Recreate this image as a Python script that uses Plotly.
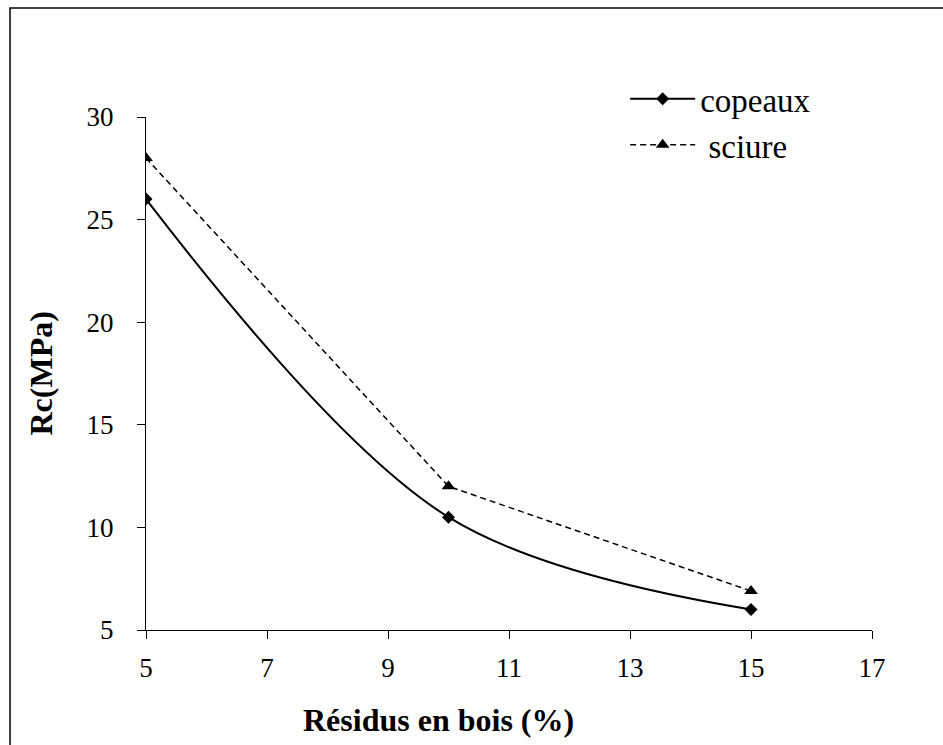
import plotly.graph_objects as go

residus = [5, 10, 15]
copeaux = [26, 10.5, 6]
sciure = [28, 12, 6.9]
x_ticks = [5, 7, 9, 11, 13, 15, 17]
y_ticks = [5, 10, 15, 20, 25, 30]

font_name = "Liberation Serif, Times New Roman, serif"

fig = go.Figure()
fig.add_trace(go.Scatter(
    x=residus, y=copeaux, name="copeaux", mode="lines+markers",
    line=dict(color="black", width=2, shape="spline", smoothing=1),
    marker=dict(symbol="diamond", size=10, color="black"),
))
fig.add_trace(go.Scatter(
    x=residus, y=sciure, name=" sciure", mode="lines+markers",
    line=dict(color="black", width=1.5, dash="6px,4px"),
    marker=dict(symbol="triangle-up", size=12, color="black"),
))

fig.update_layout(
    width=943, height=745,
    margin=dict(l=146, r=71, t=117, b=115),
    paper_bgcolor="white", plot_bgcolor="white",
    font=dict(family=font_name, size=27, color="black"),
    showlegend=True,
    legend=dict(x=0.66, y=1.09, xanchor="left", yanchor="top",
                bgcolor="rgba(0,0,0,0)", font=dict(size=33),
                itemwidth=65, tracegroupgap=2),
    xaxis=dict(
        range=[5, 17], tickvals=x_ticks, showgrid=False, zeroline=False,
        showline=True, linecolor="black", linewidth=1,
        ticks="outside", ticklen=8, tickcolor="black",
        ticklabelstandoff=6,
    ),
    yaxis=dict(
        range=[5, 30], tickvals=y_ticks, showgrid=False, zeroline=False,
        showline=True, linecolor="black", linewidth=1,
        ticks="outside", ticklen=8, tickcolor="black",
        ticklabelstandoff=18,
    ),
    annotations=[
        dict(text="<b>Résidus en bois (%)</b>", xref="paper", yref="paper",
             x=0.403, y=-0.175, showarrow=False, font=dict(size=32),
             xanchor="center", yanchor="middle"),
        dict(text="<b>Rc(MPa)</b>", xref="paper", yref="paper",
             x=-0.146, y=0.5, showarrow=False, font=dict(size=32),
             textangle=-90, xanchor="center", yanchor="middle"),
    ],
    shapes=[dict(type="rect", xref="paper", yref="paper",
                 x0=-0.1873, x1=2, y0=-2, y1=1.2125,
                 line=dict(color="black", width=1.5))],
)

fig.write_html("out.html", config={"displayModeBar": False},
               post_script="document.body.style.margin='0';")
